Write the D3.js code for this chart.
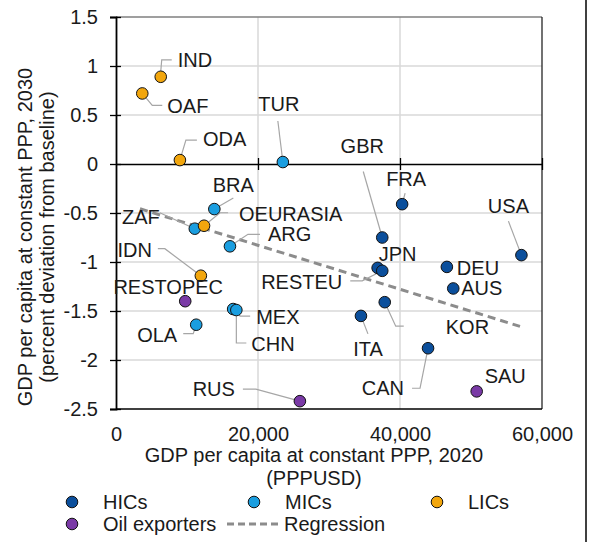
<!DOCTYPE html>
<html>
<head>
<meta charset="utf-8">
<script src="https://cdn.jsdelivr.net/npm/d3@7"></script>
<style>
  html, body { margin: 0; padding: 0; background: #fff; }
  svg { display: block; font-family: "Liberation Sans", Arial, sans-serif; }
</style>
</head>
<body>
<svg id="chart" width="591" height="542"></svg>
<script>
// Economies and their values
const countries = ["IND","OAF","ODA","TUR","BRA","ZAF","OEURASIA","ARG","IDN","RESTOPEC","OLA","MEX","CHN","RUS",
                   "GBR","FRA","USA","JPN","RESTEU","DEU","AUS","KOR","ITA","CAN","SAU"];
// GDP per capita at constant PPP, 2020 (PPPUSD)
const gdp2020 = [6300, 3700, 9000, 23500, 13850, 11100, 12400, 16050, 11950, 9750, 11300, 16500, 16950, 25900,
                 37500, 40300, 57100, 36850, 37500, 46600, 47500, 37850, 34500, 43950, 50800];
// GDP per capita, 2030, percent deviation from baseline
const dev2030 = [0.89, 0.72, 0.04, 0.02, -0.46, -0.66, -0.63, -0.84, -1.14, -1.40, -1.64, -1.48, -1.49, -2.42,
                 -0.75, -0.41, -0.93, -1.06, -1.09, -1.05, -1.27, -1.41, -1.55, -1.88, -2.32];
const groups = ["LICs","LICs","LICs","MICs","MICs","MICs","LICs","MICs","LICs","Oil exporters","MICs","MICs","MICs","Oil exporters",
                "HICs","HICs","HICs","HICs","HICs","HICs","HICs","HICs","HICs","HICs","Oil exporters"];

// Regression line end points
const regX = [3380, 56900];
const regY = [-0.457, -1.657];

const groupNames = ["HICs","MICs","LICs","Oil exporters"];
const groupColors = ["#0b4f9c","#1a9ee0","#f2a60d","#7a3aa6"];

const xTicks = [0, 20000, 40000, 60000];
const yTicks = [-2.5, -2, -1.5, -1, -0.5, 0, 0.5, 1, 1.5];

// Label placement (pixel offsets from each marker) and leader-line bends
const labelLayout = {
  IND:      {dx: 17,  dy: -17, a: "start",  lead: [[0,-5],[1,-17],[11,-17]]},
  OAF:      {dx: 25,  dy: 13,  a: "start",  lead: [[0,0],[10,12],[20,12]]},
  ODA:      {dx: 23,  dy: -21, a: "start",  lead: [[0,0],[6,-20],[17,-20]]},
  TUR:      {dx: -4,  dy: -58, a: "middle", lead: [[0,0],[-5,-41]]},
  BRA:      {dx: 19,  dy: -24, a: "middle", lead: [[0,0],[19,-11]]},
  ZAF:      {dx: -35, dy: -12, a: "end",    lead: [[0,0],[-35,-16]]},
  OEURASIA: {dx: 35,  dy: -12, a: "start",  lead: [[0,0],[16,-13],[24,-13]]},
  ARG:      {dx: 38,  dy: -12, a: "start",  lead: [[0,0],[18,-12],[30,-12]]},
  IDN:      {dx: -49, dy: -26, a: "end",    lead: [[0,0],[-36,-27],[-43,-27]]},
  RESTOPEC: {dx: -17, dy: -14, a: "middle", lead: null},
  OLA:      {dx: -19, dy: 10,  a: "end",    lead: [[0,0],[-3,9],[-13,9]]},
  MEX:      {dx: 23,  dy: 8,   a: "start",  lead: [[0,0],[7,7],[17,7]]},
  CHN:      {dx: 15,  dy: 34,  a: "start",  lead: [[0,0],[0,33],[10,33]]},
  RUS:      {dx: -65, dy: -12, a: "end",    lead: [[0,0],[-44,-12],[-57,-12]]},
  GBR:      {dx: -20, dy: -92, a: "middle", lead: [[0,0],[-19,-66]]},
  FRA:      {dx: 4,   dy: -25, a: "middle", lead: [[0,0],[3,-11]]},
  USA:      {dx: -13, dy: -49, a: "middle", lead: [[0,0],[-13,-34]]},
  JPN:      {dx: 20,  dy: -14, a: "middle", lead: null},
  RESTEU:   {dx: -40, dy: 11,  a: "end",    lead: [[0,0],[-20,10],[-32,10]]},
  DEU:      {dx: 10,  dy: 1,   a: "start",  lead: null},
  AUS:      {dx: 8,   dy: 0,   a: "start",  lead: null},
  KOR:      {dx: 61,  dy: 25,  a: "start",  lead: [[0,0],[11,24],[19,24]]},
  ITA:      {dx: 7,   dy: 33,  a: "middle", lead: [[0,0],[7,18]]},
  CAN:      {dx: -24, dy: 40,  a: "end",    lead: [[0,0],[-8,40],[-16,40]]},
  SAU:      {dx: 8,   dy: -15, a: "start",  lead: null}
};

const FONT = 20;
const svg = d3.select("#chart");

const x = d3.scaleLinear().domain([0, 60000]).range([116, 542]);
const y = d3.scaleLinear().domain([-2.5, 1.5]).range([409, 17]);
const color = d3.scaleOrdinal().domain(groupNames).range(groupColors);

// gridlines
const grid = svg.append("g");
grid.selectAll("line.h").data(yTicks.filter(d => d !== 0 && d !== -2.5 && d !== 1.5)).join("line")
  .attr("x1", x(0)).attr("x2", x(60000)).attr("y1", d => y(d)).attr("y2", d => y(d))
  .attr("stroke", "#d9d9d9").attr("stroke-width", 1.5);
grid.selectAll("line.v").data(xTicks.filter(d => d > 0 && d < 60000)).join("line")
  .attr("x1", d => x(d)).attr("x2", d => x(d)).attr("y1", y(1.5)).attr("y2", y(-2.5))
  .attr("stroke", "#d9d9d9").attr("stroke-width", 1.5);

// plot frame: top and right edges
svg.append("line").attr("x1", x(0)).attr("x2", x(60000)).attr("y1", y(1.5)).attr("y2", y(1.5))
  .attr("stroke", "#7f7f7f").attr("stroke-width", 1.5);
svg.append("line").attr("x1", x(60000)).attr("x2", x(60000)).attr("y1", y(1.5)).attr("y2", y(-2.5))
  .attr("stroke", "#262626").attr("stroke-width", 1.3);
// bottom edge
svg.append("line").attr("x1", x(0)).attr("x2", x(60000)).attr("y1", y(-2.5)).attr("y2", y(-2.5))
  .attr("stroke", "#000").attr("stroke-width", 1.5);

// y axis
const yAxis = svg.append("g").attr("transform", `translate(${x(0)},0)`)
  .call(d3.axisLeft(y).tickValues(yTicks).tickFormat(d => String(d)).tickSize(6).tickPadding(12));
yAxis.select(".domain").attr("stroke", "#000").attr("stroke-width", 1.8);
yAxis.selectAll(".tick line").attr("x1", 5).attr("x2", -6).attr("stroke", "#000").attr("stroke-width", 1.3);
yAxis.selectAll(".tick text").attr("font-size", FONT).attr("fill", "#1a1a1a")
  .attr("font-family", "Liberation Sans, Arial, sans-serif");

// horizontal axis along zero, with crossing ticks
const zeroAxis = svg.append("g").attr("transform", `translate(0,${y(0)})`)
  .call(d3.axisBottom(x).tickValues(xTicks.filter(d => d > 0)).tickFormat("").tickSize(6).tickSizeOuter(0));
zeroAxis.select(".domain").attr("stroke", "#000").attr("stroke-width", 1.5);
zeroAxis.selectAll(".tick line").attr("y1", -6).attr("y2", 6).attr("stroke", "#000").attr("stroke-width", 1.3);

// x tick labels below the plot
const xAxis = svg.append("g").attr("transform", `translate(0,${y(-2.5)})`)
  .call(d3.axisBottom(x).tickValues(xTicks).tickFormat(d3.format(",")).tickSize(0).tickPadding(18));
xAxis.select(".domain").remove();
xAxis.selectAll(".tick text").attr("font-size", FONT).attr("fill", "#1a1a1a")
  .attr("font-family", "Liberation Sans, Arial, sans-serif");

// axis titles
const xTitle = svg.append("text").attr("text-anchor", "middle").attr("font-size", FONT).attr("fill", "#1a1a1a");
xTitle.append("tspan").attr("x", 314).attr("y", 462).text("GDP per capita at constant PPP, 2020");
xTitle.append("tspan").attr("x", 314).attr("y", 485).text("(PPPUSD)");

const yTitle = svg.append("text").attr("text-anchor", "middle").attr("font-size", FONT).attr("fill", "#1a1a1a")
  .attr("transform", "translate(0,237) rotate(-90)");
yTitle.append("tspan").attr("x", 0).attr("y", 32).text("GDP per capita at constant PPP, 2030");
yTitle.append("tspan").attr("x", 0).attr("y", 54).text("(percent deviation from baseline)");

// regression line
svg.append("line")
  .attr("x1", x(regX[0])).attr("y1", y(regY[0])).attr("x2", x(regX[1])).attr("y2", y(regY[1]))
  .attr("stroke", "#8c8c8c").attr("stroke-width", 3).attr("stroke-dasharray", "8,5");

const pts = countries.map((c, i) => ({name: c, gx: gdp2020[i], gy: dev2030[i], group: groups[i]}));

// leader lines
svg.append("g").selectAll("polyline").data(pts.filter(p => labelLayout[p.name].lead)).join("polyline")
  .attr("points", p => labelLayout[p.name].lead.map(([dx, dy]) => [x(p.gx) + dx, y(p.gy) + dy].join(",")).join(" "))
  .attr("fill", "none").attr("stroke", "#a6a6a6").attr("stroke-width", 1.2);

// markers
svg.append("g").selectAll("circle").data(pts).join("circle")
  .attr("cx", p => x(p.gx)).attr("cy", p => y(p.gy)).attr("r", 5.8)
  .attr("fill", p => color(p.group)).attr("stroke", "#111").attr("stroke-width", 1);

// data labels
svg.append("g").selectAll("text").data(pts).join("text")
  .attr("x", p => x(p.gx) + labelLayout[p.name].dx)
  .attr("y", p => y(p.gy) + labelLayout[p.name].dy)
  .attr("dy", "0.35em")
  .attr("text-anchor", p => labelLayout[p.name].a)
  .attr("font-size", FONT).attr("fill", "#1a1a1a")
  .text(p => p.name);

// legend
const legendRows = [
  {label: "HICs", type: "dot", group: "HICs", cx: 72, cy: 502},
  {label: "MICs", type: "dot", group: "MICs", cx: 254, cy: 502},
  {label: "LICs", type: "dot", group: "LICs", cx: 437, cy: 502},
  {label: "Oil exporters", type: "dot", group: "Oil exporters", cx: 72, cy: 524},
  {label: "Regression", type: "dash", cx: 253, cy: 524}
];
const lg = svg.append("g");
legendRows.forEach(r => {
  if (r.type === "dot") {
    lg.append("circle").attr("cx", r.cx).attr("cy", r.cy).attr("r", 5.8)
      .attr("fill", color(r.group)).attr("stroke", "#111").attr("stroke-width", 1);
    lg.append("text").attr("x", r.cx + 31).attr("y", r.cy).attr("dy", "0.35em")
      .attr("font-size", FONT).attr("fill", "#1a1a1a").text(r.label);
  } else {
    lg.append("line").attr("x1", r.cx - 26).attr("x2", r.cx + 27).attr("y1", r.cy).attr("y2", r.cy)
      .attr("stroke", "#8c8c8c").attr("stroke-width", 3).attr("stroke-dasharray", "7,4");
    lg.append("text").attr("x", r.cx + 31).attr("y", r.cy).attr("dy", "0.35em")
      .attr("font-size", FONT).attr("fill", "#1a1a1a").text(r.label);
  }
});

// outer right border
svg.append("line").attr("x1", 586).attr("x2", 586).attr("y1", 0).attr("y2", 542)
  .attr("stroke", "#000").attr("stroke-width", 1.5);
</script>
</body>
</html>
